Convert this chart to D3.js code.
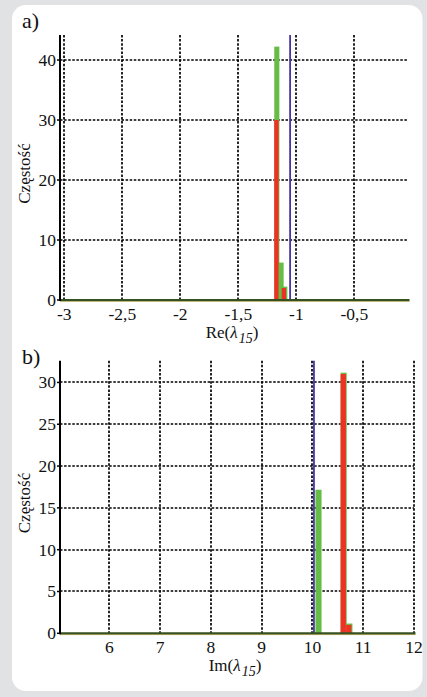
<!DOCTYPE html>
<html><head><meta charset="utf-8">
<script src="https://cdn.jsdelivr.net/npm/d3@7"></script>
<style>
html,body{margin:0;padding:0;background:#e1e2e3;}
svg{display:block;}
text{font-family:"Liberation Serif","Times New Roman",serif;fill:#111;}
</style></head>
<body>
<svg id="c" width="427" height="697"></svg>
<script>
// ---- Panel a: Re(lambda_15) ----
const aXTicks = [-3, -2.5, -2, -1.5, -1, -0.5];
const aXTickLabels = ["-3", "-2,5", "-2", "-1,5", "-1", "-0,5"];
const aYTicks = [0, 10, 20, 30, 40];
const aGreenCenters = [-1.172, -1.135, -1.103];
const aGreenCounts = [42, 6, 2];
const aRedCenters = [-1.172, -1.108];
const aRedCounts = [30, 2];
const aBinWidth = 0.037;
const aBlueLine = -1.054;
const aXDomain = [-3.037, -0.038];
const aYDomain = [0, 44.17];

// ---- Panel b: Im(lambda_15) ----
const bXTicks = [6, 7, 8, 9, 10, 11, 12];
const bXTickLabels = ["6", "7", "8", "9", "10", "11", "12"];
const bYTicks = [0, 5, 10, 15, 20, 25, 30];
const bGreenCenters = [10.112, 10.607, 10.72];
const bGreenCounts = [17, 31, 1];
const bRedCenters = [10.607, 10.715];
const bRedCounts = [31, 1];
const bBinWidth = 0.104;
const bBlueLine = 10.03;
const bXDomain = [5.03, 12.0];
const bYDomain = [0, 32.6];

const svg = d3.select("#c");
svg.append("rect").attr("x",12).attr("y",5).attr("width",410.5).attr("height",686)
  .attr("rx",14).attr("ry",14).attr("fill","#ffffff");

const GREEN = "#66bd45", RED = "#ee3124", BLUE = "#4636a0";

function panel(o){
  const x = d3.scaleLinear().domain(o.xDomain).range([o.left, o.right]);
  const y = d3.scaleLinear().domain(o.yDomain).range([o.bottom, o.top]);
  const g = svg.append("g");
  // grid
  g.selectAll(".vg").data(o.xTicks).join("line")
    .attr("x1", d=>Math.round(x(d))).attr("x2", d=>Math.round(x(d))).attr("y1", o.top).attr("y2", o.bottom)
    .attr("stroke","#000").attr("stroke-width",1.7).attr("stroke-dasharray","2.5,1.6");
  g.selectAll(".hg").data(o.yTicks.filter(d=>d>0)).join("line")
    .attr("x1", o.left).attr("x2", o.right).attr("y1", d=>Math.round(y(d))).attr("y2", d=>Math.round(y(d)))
    .attr("stroke","#000").attr("stroke-width",1.7).attr("stroke-dasharray","2.5,1.6");
  // green bars (with slight top edge)
  g.selectAll(".gb").data(o.gC.map((c,i)=>({c, v:o.gV[i]}))).join("rect")
    .attr("x", d=>x(d.c - o.bw/2)).attr("width", d=>x(d.c + o.bw/2) - x(d.c - o.bw/2) + 0.8)
    .attr("y", d=>y(d.v) - 1.4).attr("height", d=>y(0)-y(d.v) + 1.4)
    .attr("fill", GREEN);
  // red bars
  g.selectAll(".rb").data(o.rC.map((c,i)=>({c, v:o.rV[i]}))).join("rect")
    .attr("x", d=>x(d.c - o.bw/2)).attr("width", d=>x(d.c + o.bw/2) - x(d.c - o.bw/2))
    .attr("y", d=>y(d.v)).attr("height", d=>y(0)-y(d.v))
    .attr("fill", RED);
  // blue reference line
  g.append("line").attr("x1", x(o.blue)).attr("x2", x(o.blue))
    .attr("y1", o.top).attr("y2", o.bottom)
    .attr("stroke", BLUE).attr("stroke-width", 1.8);
  // baseline (zero-count histogram line)
  g.append("line").attr("x1", o.left).attr("x2", o.right+1.5).attr("y1", y(0)+1.3).attr("y2", y(0)+1.3)
    .attr("stroke", "#b3a35a").attr("stroke-width", 1);
  g.append("line").attr("x1", o.left).attr("x2", o.right+1.5).attr("y1", y(0)).attr("y2", y(0))
    .attr("stroke", "#355021").attr("stroke-width", 2);
  // y axis
  g.append("line").attr("x1", o.left).attr("x2", o.left).attr("y1", o.top).attr("y2", o.bottom+1)
    .attr("stroke","#000").attr("stroke-width",2);
  g.selectAll(".yt").data(o.yTicks).join("line")
    .attr("x1", o.left-3).attr("x2", o.left).attr("y1", d=>y(d)).attr("y2", d=>y(d))
    .attr("stroke","#000").attr("stroke-width",1.5);
  g.selectAll(".yl").data(o.yTicks).join("text")
    .attr("x", o.left-4).attr("y", d=>y(d)+6).attr("text-anchor","end")
    .attr("font-size", 17.5).text(d=>d);
  g.selectAll(".xl").data(o.xTicks).join("text")
    .attr("x", d=>x(d)).attr("y", o.bottom+20).attr("text-anchor","middle")
    .attr("font-size", 17.5).text((d,i)=>o.xLabels[i]);
  // x axis title
  const t = g.append("text").attr("x", (o.left+o.right)/2 - 2).attr("y", o.bottom+38)
    .attr("text-anchor","middle").attr("font-size", 17);
  t.append("tspan").text(o.xTitle + "(");
  t.append("tspan").attr("font-style","italic").text("λ");
  t.append("tspan").attr("font-style","italic").attr("font-size",14).attr("dy",5).attr("dx",1).text("15");
  t.append("tspan").attr("dy",-5).text(")");
  // y axis title
  g.append("text").attr("transform", `translate(${30},${(o.top+o.bottom)/2 + 6}) rotate(-90)`)
    .attr("text-anchor","middle").attr("font-size", 17).text("Częstość");
  // panel letter
  g.append("text").attr("x", 22).attr("y", o.letterY).attr("font-size", 22).text(o.letter);
}

panel({left:60, right:408, top:35, bottom:300, xDomain:aXDomain, yDomain:aYDomain,
  xTicks:aXTicks, xLabels:aXTickLabels, yTicks:aYTicks,
  gC:aGreenCenters, gV:aGreenCounts, rC:aRedCenters, rV:aRedCounts, bw:aBinWidth,
  blue:aBlueLine, xTitle:"Re", letter:"a)", letterY:28});
panel({left:60, right:414, top:360.7, bottom:633.3, xDomain:bXDomain, yDomain:bYDomain,
  xTicks:bXTicks, xLabels:bXTickLabels, yTicks:bYTicks,
  gC:bGreenCenters, gV:bGreenCounts, rC:bRedCenters, rV:bRedCounts, bw:bBinWidth,
  blue:bBlueLine, xTitle:"Im", letter:"b)", letterY:364});
</script>
</body></html>
